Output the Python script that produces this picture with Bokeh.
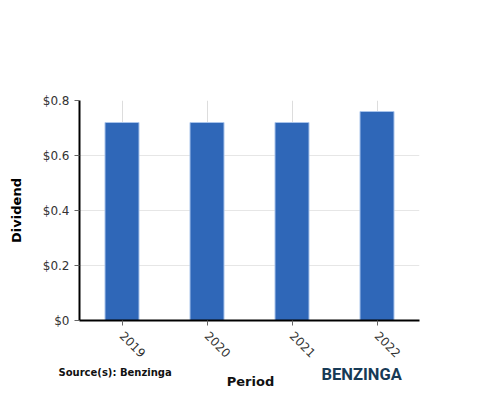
from bokeh.plotting import figure
from bokeh.layouts import column
from bokeh.models import FactorRange, NumeralTickFormatter, Range1d
from bokeh.core.properties import value
from bokeh.embed import file_html
from bokeh.resources import INLINE
import math

periods = ["2019", "2020", "2021", "2022"]
dividends = [0.72, 0.72, 0.72, 0.76]
y_ticks = [0, 0.2, 0.4, 0.6, 0.8]
source_text = ["Source(s): Benzinga"]
x_title = ["Period"]
brand = ["BENZINGA"]

W = 484
p = figure(width=W, frame_width=340, frame_height=220,
           x_range=FactorRange(*periods, range_padding=0),
           y_range=Range1d(0, 0.8), output_backend="svg", toolbar_location=None,
           min_border_left=79, min_border_right=65, min_border_top=100, min_border_bottom=30)
p.frame_align = False
p.outline_line_color = None

p.vbar(x=periods, top=dividends, width=0.4, fill_color="#2f67b8",
       line_color="#a9c4eb", line_width=1)

p.yaxis.ticker = y_ticks
p.yaxis.formatter = NumeralTickFormatter(format="$0[.]0")
p.yaxis.major_label_overrides = {0: "$0"}
for ax in (p.xaxis[0], p.yaxis[0]):
    ax.axis_line_color = "black"
    ax.axis_line_width = 2
    ax.major_tick_line_color = "#666666"
    ax.major_tick_out = 5
    ax.major_tick_in = 0
    ax.minor_tick_line_color = None
    ax.major_label_text_font = "DejaVu Sans"
    ax.major_label_text_font_size = "12px"
    ax.major_label_text_color = "#333333"
    ax.axis_label_text_font = "DejaVu Sans"
    ax.axis_label_text_font_style = "bold"
    ax.axis_label_text_font_size = "13px"
    ax.axis_label_text_color = "black"

p.xaxis.major_label_orientation = -math.pi / 4
p.xaxis.major_label_standoff = 8
p.yaxis.axis_label = "Dividend"
p.yaxis.axis_label_standoff = 16

p.xgrid.grid_line_color = "#dddddd"
p.ygrid.grid_line_color = "#e6e6e6"

# footer strip with source, axis title and brand
FH = 26
f = figure(width=W, height=FH, x_range=Range1d(0, W), y_range=Range1d(FH, 0),
           output_backend="svg", toolbar_location=None,
           min_border_left=0, min_border_right=0, min_border_top=0, min_border_bottom=0)
f.frame_align = False
f.axis.visible = False
f.grid.visible = False
f.outline_line_color = None
f.text(x=[58], y=[8], text=source_text, text_font=value("DejaVu Sans"),
       text_font_style="bold", text_font_size="10px", text_color="#111111",
       text_baseline="alphabetic", text_align="left")
f.text(x=[250], y=[16.7], text=x_title, text_font=value("DejaVu Sans"),
       text_font_style="bold", text_font_size="13px", text_color="#111111",
       text_baseline="alphabetic", text_align="center")
f.text(x=[321], y=[9.5], text=brand, text_font=value("Roboto"),
       text_font_style="bold", text_font_size="16.5px", text_color="#173a56",
       text_baseline="alphabetic", text_align="left")

layout = column(p, f, spacing=0)
open("out.html", "w").write(file_html(layout, INLINE))
